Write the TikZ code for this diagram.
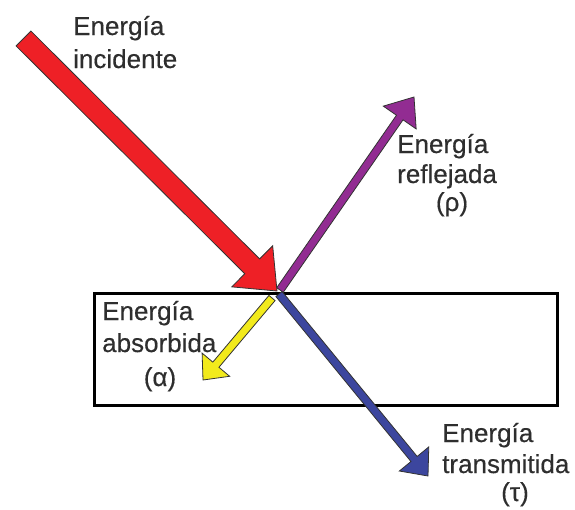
\documentclass[tikz,border=0pt]{standalone}
\usepackage{fontspec}
\setmainfont{Liberation Sans}[FakeBold=0.4]
\usetikzlibrary{calc}
\definecolor{cred}{HTML}{EE2026}
\definecolor{cpurple}{HTML}{922C92}
\definecolor{cyellow}{HTML}{F2EA1C}
\definecolor{cblue}{HTML}{3C469E}
\definecolor{ctext}{HTML}{2E2E2E}
\tikzset{
  lbl/.style={inner sep=0pt, text=ctext, font=\fontsize{26}{30}\selectfont},
  box/.style={draw=black, line width=2.5pt},
  fat/.style={draw=black!80, line width=0.8pt, line join=miter}
}
% #1 tail, #2 tip, #3 half shaft, #4 half head, #5 head length, #6 colour
\newcommand\fatarrow[6]{%
  \coordinate (hb) at ($(#2)!#5!(#1)$);
  \draw[fat, fill=#6]
    ($(#1)!#3!90:(#2)$) -- ($(hb)!#3!90:(#2)$) -- ($(hb)!#4!90:(#2)$) --
    (#2) -- ($(hb)!#4!-90:(#2)$) -- ($(hb)!#3!-90:(#2)$) --
    ($(#1)!#3!-90:(#2)$) -- cycle;
}
\begin{document}
\begin{tikzpicture}[x=1pt,y=-1pt]
\useasboundingbox (0,0) rectangle (575,509);
\node[box, minimum width=463pt, minimum height=112pt, anchor=north west, inner sep=0pt] (slab) at (93,292) {};
% named points
\coordinate (redtail) at (23.5,38.5);
\coordinate (redtip) at (277,291);
\coordinate (ptail) at (280,290);
\coordinate (ptip) at (414,97);
\coordinate (ytail) at (272,298);
\coordinate (ytip) at (203,380);
\coordinate (btail) at (279,294);
\coordinate (btip) at (428,476);
\fatarrow{btail}{btip}{4pt}{19pt}{22pt}{cblue}
\fatarrow{ytail}{ytip}{4pt}{18pt}{20pt}{cyellow}
\fatarrow{ptail}{ptip}{4pt}{20pt}{25pt}{cpurple}
\fatarrow{redtail}{redtip}{10.5pt}{29pt}{35pt}{cred}
% labels
\node[lbl, anchor=base west] (i1) at (73,35) {Energía};
\node[lbl, anchor=base west] (i2) at (73,68) {incidente};
\node[lbl, anchor=base west] (r1) at (397,153) {Energía};
\node[lbl, anchor=base west] (r2) at (397,183) {reflejada};
\node[lbl, anchor=base] (r3) at (452,211) {(ρ)};
\node[lbl, anchor=base west] (a1) at (102,320) {Energía};
\node[lbl, anchor=base west] (a2) at (102,352) {absorbida};
\node[lbl, anchor=base] (a3) at (160,386) {(α)};
\node[lbl, anchor=base west] (t1) at (442,442) {Energía};
\node[lbl, anchor=base west] (t2) at (442,473) {transmitida};
\node[lbl, anchor=base] (t3) at (515,501) {(τ)};
\end{tikzpicture}
\end{document}
